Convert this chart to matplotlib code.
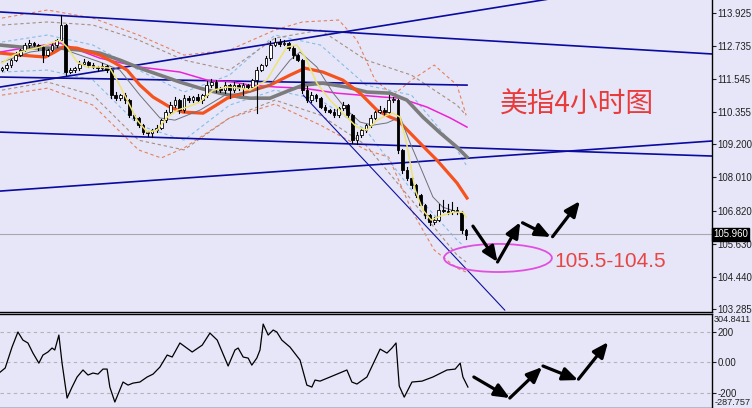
import matplotlib
matplotlib.use("Agg")
import matplotlib.pyplot as plt
from matplotlib.patches import Ellipse, FancyArrowPatch, Rectangle
from matplotlib.transforms import blended_transform_factory

# ---------------- data ----------------
first_open = 111.87
closes = [111.94, 112.05, 112.23, 112.41, 112.59, 112.77, 112.84, 112.77, 112.70, 112.41,
          112.59, 112.77, 112.95, 113.49, 111.80, 111.87, 111.94, 112.10, 112.16, 112.05,
          111.98, 111.94, 112.02, 111.87, 110.97, 110.86, 110.97, 110.79, 110.25, 110.15,
          109.89, 109.64, 109.61, 109.71, 109.79, 110.07, 110.36, 110.61, 110.79, 110.43,
          110.86, 110.79, 110.90, 110.79, 110.97, 111.33, 111.44, 111.22, 111.15, 111.33,
          111.15, 111.33, 111.22, 111.33, 111.26, 111.51, 111.87, 112.05, 112.30, 112.77,
          112.88, 112.81, 112.84, 112.66, 112.41, 112.23, 111.15, 110.79, 110.97, 110.86,
          110.54, 110.43, 110.36, 110.25, 110.50, 110.61, 110.25, 109.35, 109.53, 109.71,
          109.89, 110.15, 110.36, 110.43, 110.36, 110.79, 110.79, 108.99, 108.27, 107.99,
          107.74, 107.38, 107.02, 106.66, 106.40, 106.48, 106.84, 106.80, 106.76, 106.84,
          106.76, 106.12, 105.94]
up_wick = [0.05, 0.08, 0.05, 0.10, 0.05, 0.08, 0.10, 0.05, 0.05, 0.08,
           0.05, 0.10, 0.05, 0.35, 0.05, 0.08, 0.05, 0.10, 0.12, 0.05,
           0.08, 0.05, 0.10, 0.05, 0.08, 0.10, 0.05, 0.08, 0.05, 0.05,
           0.05, 0.05, 0.05, 0.05, 0.10, 0.05, 0.08, 0.10, 0.12, 0.05,
           0.10, 0.08, 0.05, 0.10, 0.05, 0.15, 0.10, 0.08, 0.05, 0.10,
           0.05, 0.10, 0.05, 0.08, 0.05, 0.05, 0.10, 0.05, 0.08, 0.15,
           0.15, 0.10, 0.12, 0.05, 0.08, 0.05, 0.05, 0.15, 0.10, 0.05,
           0.05, 0.08, 0.05, 0.10, 0.05, 0.10, 0.05, 0.05, 0.10, 0.05,
           0.05, 0.10, 0.05, 0.15, 0.08, 0.20, 0.10, 0.05, 0.05, 0.10,
           0.05, 0.05, 0.05, 0.05, 0.05, 0.10, 0.20, 0.35, 0.25, 0.30,
           0.10, 0.05, 0.05]
dn_wick = [0.05, 0.05, 0.08, 0.05, 0.05, 0.05, 0.08, 0.05, 0.10, 0.25,
           0.05, 0.05, 0.08, 0.05, 0.10, 0.05, 0.08, 0.05, 0.05, 0.08,
           0.05, 0.10, 0.05, 0.08, 0.12, 0.08, 0.05, 0.10, 0.05, 0.08,
           0.05, 0.08, 0.12, 0.15, 0.05, 0.05, 0.05, 0.08, 0.05, 0.10,
           0.05, 0.08, 0.05, 0.05, 0.10, 0.05, 0.08, 0.12, 0.05, 0.10,
           0.30, 0.05, 0.08, 0.25, 0.05, 0.05, 1.19, 0.05, 0.05, 0.05,
           0.05, 0.08, 0.05, 0.05, 0.10, 0.05, 0.10, 0.08, 0.05, 0.10,
           0.05, 0.08, 0.05, 0.05, 0.05, 0.05, 0.10, 0.10, 0.12, 0.05,
           0.05, 0.05, 0.05, 0.05, 0.10, 0.05, 0.05, 0.10, 0.10, 0.08,
           0.10, 0.08, 0.05, 0.10, 0.10, 0.08, 0.05, 0.05, 0.08, 0.05,
           0.05, 0.12, 0.15]

# moving averages (bar index, price)
yellow_x = [0, 1.8, 4.0, 8.4, 12.7, 14.3, 16.5, 18.7, 21.5, 23.7, 25.3, 27.5, 29.7, 31.9, 34.1,
            36.3, 38.5, 40.7, 43.5, 46.4, 49.5, 52.3, 54.5, 58.2, 60.4, 62.6, 64.8, 66.6, 69.2,
            72.1, 74.9, 78.0, 80.2, 82.4, 84.6, 85.9, 87.5, 89.0, 90.8, 92.5, 94.3, 96.3, 99.1,
            101.3, 102.0]
yellow_y = [112.12, 112.34, 112.52, 112.70, 112.95, 112.70, 112.16, 111.98, 111.98, 111.94,
            111.51, 110.79, 110.07, 109.64, 109.71, 110.18, 110.43, 110.54, 110.72, 111.15,
            111.26, 111.22, 111.15, 111.51, 112.12, 112.70, 112.77, 112.34, 111.40, 110.79,
            110.32, 109.82, 109.71, 110.07, 110.25, 110.32, 110.18, 109.17, 107.56, 106.84,
            106.48, 106.62, 106.76, 106.76, 106.58]
thin_x = [0, 6.2, 12.7, 17.1, 21.5, 25.9, 30.3, 34.7, 38.0, 43.5, 49.0, 54.5, 58.9, 63.3,
          65.5, 69.2, 72.8, 75.8, 78.7, 81.5, 84.6, 87.5, 89.7, 92.5, 94.7, 96.9, 100.7]
thin_y = [112.16, 112.52, 112.66, 112.41, 112.16, 111.87, 110.97, 110.15, 110.07, 110.43,
          110.97, 111.08, 111.33, 112.23, 112.52, 111.98, 111.04, 110.43, 110.00, 109.89,
          109.97, 110.18, 109.25, 108.17, 107.31, 106.94, 106.73]
orange_x = [-0.4, 4, 7, 9.5, 11.6, 13.4, 16.5, 21.5, 24.4, 27.5, 30.3, 33.2, 36.9, 39.8, 44.2,
            46.4, 49.5, 53, 58.9, 63.3, 66.6, 70.5, 74.9, 78.7, 82.4, 85.3, 87, 89.7, 93.4,
            95.6, 100, 102.2]
orange_y = [112.48, 112.41, 112.37, 112.34, 112.52, 112.70, 112.66, 112.41, 112.16, 111.87,
            111.33, 110.90, 110.54, 110.36, 110.32, 110.54, 110.86, 111.04, 111.33, 111.69,
            111.94, 111.80, 111.51, 111.04, 110.43, 110.18, 110.07, 109.61, 108.99, 108.63,
            107.81, 107.27]
grey_x = [-0.4, 4, 8.4, 12.8, 17.1, 21.5, 25.9, 30.3, 34.7, 39.1, 43.5, 47.9, 52.3, 54.5,
          58.9, 63.3, 66.2, 70.5, 75.8, 80.2, 85.3, 89, 92.5, 96.3, 100, 102.2]
grey_y = [112.77, 112.70, 112.66, 112.66, 112.59, 112.48, 112.23, 111.94, 111.69, 111.44,
          111.22, 111.04, 110.90, 110.86, 110.86, 111.15, 111.33, 111.40, 111.26, 111.08,
          111.04, 110.79, 110.18, 109.61, 109.10, 108.74]
magenta_x = [-0.4, 6.2, 12.8, 21.5, 30.3, 39.1, 45.1, 50.8, 54.5, 60.4, 66.2, 73.6, 83.7,
             87.5, 93.4, 98.5, 102.2]
magenta_y = [112.52, 112.70, 112.84, 112.30, 111.98, 111.80, 111.51, 111.44, 111.33, 111.26,
             111.22, 111.04, 110.90, 110.86, 110.54, 110.15, 109.82]

# envelope / band lines (dashed)
band_x = [0, 10, 20, 30, 40, 50, 60, 70, 80, 90, 100, 102]
blue_up = [112.88, 113.13, 112.77, 111.87, 111.08, 111.69, 113.13, 112.77, 111.33, 110.97, 109.00, 108.46]
blue_dn = [111.80, 111.87, 111.51, 109.89, 109.35, 110.61, 111.15, 110.79, 109.71, 107.56, 105.76, 105.47]
brown_up = [113.49, 113.60, 113.49, 112.95, 112.23, 111.87, 113.02, 113.31, 112.23, 111.69, 110.61, 110.25]
brown_dn = [111.15, 111.44, 110.97, 109.35, 109.00, 110.15, 110.79, 110.25, 109.17, 107.20, 105.22, 104.97]
salmon_up_x = [0, 10, 20, 30, 40, 50, 60, 66, 74, 78, 82, 86, 90, 95, 100, 102]
salmon_up = [113.74, 114.03, 113.74, 113.13, 112.41, 112.59, 113.31, 113.60, 113.67, 112.95,
             111.51, 110.97, 111.51, 112.05, 111.33, 110.25]
salmon_dn_x = [0, 10, 20, 30, 35, 40, 50, 60, 70, 80, 85, 90, 95, 100, 102]
salmon_dn = [110.97, 111.22, 110.61, 109.00, 108.71, 109.07, 110.15, 110.65, 109.89, 109.00,
             108.74, 106.84, 105.40, 104.75, 104.61]

# trend lines: ((x0, y0), (x1, y1)) in bar index / price
trend_lines = [((-0.44, 111.26), (120.4, 114.43)),
               ((-0.44, 113.96), (156.0, 112.45)),
               ((-0.44, 111.62), (102.2, 111.33)),
               ((-0.44, 109.64), (156.0, 108.78)),
               ((-0.44, 107.52), (156.0, 109.32))]
channel_line = ((66.2, 110.97), (110.5, 103.24))
last_price = 105.96

# forecast path (price panel) and ellipse target zone
fc_x = [103.5, 108.9, 113.9, 114.4, 120.6, 121.0, 127.0]
fc_y = [106.26, 104.97, 106.40, 106.38, 105.87, 105.88, 107.16]
zone_low, zone_high = 104.61, 105.62
zone_x, zone_w = 109.0, 23.7

# CCI oscillator
cci_x = [-0.4, 0.7, 2.2, 3.5, 4.6, 5.7, 6.8, 8.1, 9.0, 10.1, 11.0, 11.6, 12.5, 13.2, 14.3,
         15.4, 16.5, 17.8, 18.9, 20.0, 21.1, 22.2, 23.1, 23.7, 24.8, 26.6, 27.7, 28.8, 30.3,
         31.9, 33.2, 34.7, 36.3, 37.4, 39.1, 41.8, 44.0, 45.7, 47.3, 49.7, 51.2, 51.9, 53.0,
         54.1, 54.9, 56.0, 56.7, 57.4, 58.5, 59.6, 60.4, 61.5, 63.3, 65.5, 67.0, 68.1, 68.8,
         69.9, 72.1, 75.8, 76.9, 78.0, 80.2, 83.1, 84.6, 85.7, 86.6, 87.3, 88.4, 90.1, 92.3,
         94.7, 97.8, 99.6, 100.7, 101.3, 102.4]
cci_y = [-66, -39, 98, 197, 144, 125, 59, -7, 46, 66, 92, 79, 177, -7, -236,
         -164, -98, -52, -85, -72, -79, -46, -46, -164, -262, -131, -151, -138, -131,
         -98, -79, -33, 46, 33, 125, 66, 111, 190, 144, -26, 79, 92, 33,
         26, -20, 26, 79, 249, 177, 210, 197, 144, 98, 13, -151, -164, -118,
         -125, -98, -52, -131, -144, -98, 85, 59, 92, 125, -157, -230, -131, -125,
         -98, -52, -46, -7, -98, -164]
cci_fc_x = [103.7, 111.6, 118.7, 118.9, 126.6, 126.7, 133.2]
cci_fc_y = [-98, -236, -33, -26, -118, -112, 131]

price_ticks = [113.925, 112.735, 111.545, 110.355, 109.200, 108.010, 106.820, 105.630, 104.440, 103.285]
cci_ticks = [200, 0, -200]
cci_tick_labels = ["200", "0.00", "-200"]
cci_max_label, cci_min_label = "304.8411", "-287.757"

# ---------------- drawing ----------------
BG = "#e6e6f8"
LABEL_FONT = ["Liberation Sans", "DejaVu Sans"]
LABEL_SIZE = 6.9
fig = plt.figure(figsize=(7.52, 4.08), dpi=100, facecolor=BG)
ax = fig.add_axes([0, 0.2365, 0.9468, 0.7635], facecolor=BG)
ax2 = fig.add_axes([0, 0.0012, 0.9468, 0.2299], facecolor=BG)

XL = (-0.44, 156.04)
ax.set_xlim(*XL)
ax.set_ylim(103.19, 114.39)
ax2.set_xlim(*XL)
ax2.set_ylim(-298, 317)

dash = (0, (3, 2.5))
for xs, ys, c in [(band_x, blue_up, "#86bde6"), (band_x, blue_dn, "#86bde6"),
                  (band_x, brown_up, "#a88e80"), (band_x, brown_dn, "#a88e80"),
                  (salmon_up_x, salmon_up, "#e8805c"), (salmon_dn_x, salmon_dn, "#e8805c")]:
    ax.plot(xs, ys, color=c, lw=0.8, linestyle=dash, zorder=1)

for (x0, y0), (x1, y1) in trend_lines:
    ax.plot([x0, x1], [y0, y1], color="#0a0aa0", lw=1.2, zorder=2)
ax.plot([channel_line[0][0], channel_line[1][0]], [channel_line[0][1], channel_line[1][1]],
        color="#1010a0", lw=0.8, zorder=2)
ax.axhline(last_price, color="#a8a8b0", lw=0.8, zorder=1.5)

ax.plot(magenta_x, magenta_y, color="#f020d8", lw=1.1, zorder=3)
ax.plot(grey_x, grey_y, color="#7c7c7c", lw=2.6, zorder=3)
ax.plot(orange_x, orange_y, color="#f5521e", lw=2.3, zorder=3)
ax.plot(thin_x, thin_y, color="#707078", lw=0.7, zorder=3)

# candles
opens = [first_open] + closes[:-1]
bw = 0.58
for i, (o, c) in enumerate(zip(opens, closes)):
    hi = max(o, c) + up_wick[i]
    lo = min(o, c) - dn_wick[i]
    ax.plot([i, i], [lo, hi], color="black", lw=0.8, zorder=4)
    bottom = min(o, c)
    h = max(abs(c - o), 0.025)
    face = "white" if c >= o else "black"
    ax.add_patch(Rectangle((i - bw / 2, bottom), bw, h, facecolor=face,
                           edgecolor="black", lw=0.6, zorder=4.5))

ax.plot(yellow_x, yellow_y, color="#eee470", lw=1.1, zorder=5)

# target zone and forecast arrows
ax.add_patch(Ellipse((zone_x, (zone_low + zone_high) / 2), zone_w, zone_high - zone_low,
                     fill=False, edgecolor="#e24ee0", lw=1.3, zorder=6))


def arrows(a, xs, ys):
    pairs = [(0, 1), (1, 2), (3, 4), (5, 6)]
    for s, e in pairs:
        a.add_patch(FancyArrowPatch((xs[s], ys[s]), (xs[e], ys[e]),
                                    arrowstyle="-|>,head_length=0.65,head_width=0.28",
                                    mutation_scale=14, lw=2.3, color="black",
                                    shrinkA=0, shrinkB=0, zorder=7))


arrows(ax, fc_x, fc_y)

ax.text(0.702, 0.665, "美指4小时图", transform=ax.transAxes, fontsize=20, color="#ea3b3b",
        family=["Noto Sans CJK SC", "DejaVu Sans"], va="center", ha="left")
ax.text(0.779, 0.160, "105.5-104.5", transform=ax.transAxes, fontsize=15, color="#e84545",
        family=["Liberation Sans", "DejaVu Sans"], va="center", ha="left")

# axes styling
for a in (ax, ax2):
    a.set_xticks([])
    a.yaxis.tick_right()
    a.spines["left"].set_visible(False)
    for s in ("right", "bottom", "top"):
        a.spines[s].set_color("black")
        a.spines[s].set_linewidth(1.0)
    a.tick_params(axis="y", direction="out", length=3, width=0.8, labelsize=LABEL_SIZE,
                  colors="#202020", pad=1)
ax.spines["top"].set_visible(False)

ax.set_yticks(price_ticks)
ax.set_yticklabels([f"{t:.3f}" for t in price_ticks], family=LABEL_FONT)

tr = blended_transform_factory(ax.transAxes, ax.transData)
ax.text(1.002, last_price, f"{last_price:.3f}", transform=tr, fontsize=LABEL_SIZE, color="white",
        va="center", ha="left", zorder=10, family=LABEL_FONT,
        bbox=dict(boxstyle="square,pad=0.12", fc="black", ec="black"))

# CCI panel
for v in cci_ticks:
    ax2.axhline(v, color="#b2b2ba", lw=0.8, linestyle=(0, (3, 3)), zorder=1)
ax2.plot(cci_x, cci_y, color="black", lw=0.9, zorder=3)
arrows(ax2, cci_fc_x, cci_fc_y)
ax2.set_yticks(cci_ticks)
ax2.set_yticklabels(cci_tick_labels, family=LABEL_FONT)
ax2.text(1.003, 0.94, cci_max_label, transform=ax2.transAxes, fontsize=6.6,
         color="#202020", va="center", ha="left", family=LABEL_FONT)
ax2.text(1.003, 0.055, cci_min_label, transform=ax2.transAxes, fontsize=6.6,
         color="#202020", va="center", ha="left", family=LABEL_FONT)

fig.savefig("out.png", dpi=100, facecolor=BG)
